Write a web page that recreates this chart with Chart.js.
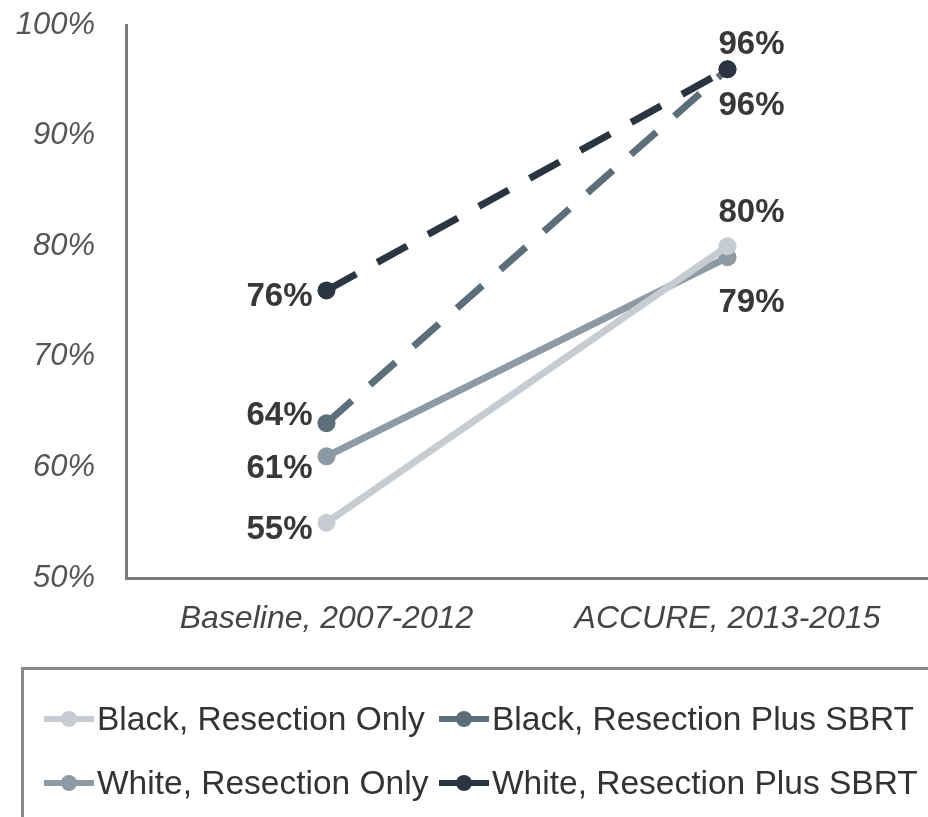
<!DOCTYPE html>
<html>
<head>
<meta charset="utf-8">
<script src="https://cdn.jsdelivr.net/npm/chart.js@4/dist/chart.umd.min.js"></script>
<style>
  html, body { margin: 0; padding: 0; background: #fff; overflow: hidden; }
  #wrap { position: relative; width: 928px; height: 817px; overflow: hidden; }
  #legend {
    position: absolute; left: 21px; top: 667px; width: 1000px; height: 200px;
    border-top: 3px solid #8a8a8a; border-left: 3px solid #8a8a8a;
    padding: 17px 0 0 20px; box-sizing: border-box;
    display: grid; grid-template-columns: 395px auto; grid-auto-rows: 64px;
    font-family: 'Liberation Sans', Arial, sans-serif; font-size: 33.5px; color: #333;
  }
  #legend .item { display: flex; align-items: center; white-space: nowrap; }
  #legend canvas { margin-right: 3px; }
</style>
</head>
<body>
<div id="wrap">
  <canvas id="chart" width="928" height="817"></canvas>
  <div id="legend"></div>
</div>
<script>
// periods on the x axis
const periods = ['Baseline, 2007-2012', 'ACCURE, 2013-2015'];

// percentages per group
const blackResectionOnly = [55, 80];
const blackResectionSbrt = [64, 96];
const whiteResectionOnly = [61, 79];
const whiteResectionSbrt = [76, 96];

const yTicks = [50, 60, 70, 80, 90, 100];

const FONT = "'Liberation Sans', Arial, sans-serif";

const series = [
    { label: 'Black, Resection Only', data: blackResectionOnly, color: '#c6ccd1', dash: [], order: 2 },
    { label: 'Black, Resection Plus SBRT', data: blackResectionSbrt, color: '#5c6e79', dash: [34, 24], order: 1 },
    { label: 'White, Resection Only', data: whiteResectionOnly, color: '#8d9aa4', dash: [], order: 3 },
    { label: 'White, Resection Plus SBRT', data: whiteResectionSbrt, color: '#2b3541', dash: [34, 24], order: 0 }
];

// value labels beside each point: [dx, dy, align] per point
const labelPlacement = [
    [[-14, 7, 'right'], [24, -33, 'center']],
    [[-14, -7, 'right'], [24, 37, 'center']],
    [[-14, 13, 'right'], [24, 46, 'center']],
    [[-14, 6, 'right'], [24, -24, 'center']]
];

const valueLabels = {
    id: 'valueLabels',
    afterDatasetsDraw(chart) {
        const ctx = chart.ctx;
        ctx.save();
        ctx.font = 'bold 33px ' + FONT;
        ctx.fillStyle = '#383838';
        ctx.textBaseline = 'middle';
        chart.data.datasets.forEach((ds, i) => {
            const meta = chart.getDatasetMeta(i);
            meta.data.forEach((pt, j) => {
                const [dx, dy, align] = labelPlacement[i][j];
                ctx.textAlign = align;
                ctx.fillText(ds.data[j] + '%', pt.x + dx, pt.y + dy);
            });
        });
        ctx.restore();
    }
};

// small line+dot swatch for the legend
function makeSwatch(color) {
    const c = document.createElement('canvas');
    c.width = 50;
    c.height = 20;
    const g = c.getContext('2d');
    g.strokeStyle = color;
    g.lineWidth = 6;
    g.beginPath();
    g.moveTo(0, 10);
    g.lineTo(50, 10);
    g.stroke();
    g.fillStyle = color;
    g.beginPath();
    g.arc(25, 10, 8, 0, Math.PI * 2);
    g.fill();
    return c;
}

const htmlLegend = {
    id: 'htmlLegend',
    afterUpdate(chart) {
        const box = document.getElementById('legend');
        box.innerHTML = '';
        chart.data.datasets.forEach(ds => {
            const item = document.createElement('div');
            item.className = 'item';
            item.appendChild(makeSwatch(ds.borderColor));
            const span = document.createElement('span');
            span.textContent = ds.label;
            item.appendChild(span);
            box.appendChild(item);
        });
    }
};

new Chart(document.getElementById('chart'), {
    type: 'line',
    data: {
        labels: periods,
        datasets: series.map(s => ({
            label: s.label,
            data: s.data,
            borderColor: s.color,
            backgroundColor: s.color,
            pointBackgroundColor: s.color,
            pointBorderColor: s.color,
            borderWidth: 7,
            borderDash: s.dash,
            pointRadius: 9,
            pointBorderWidth: 0,
            tension: 0,
            clip: false,
            order: s.order
        }))
    },
    options: {
        responsive: false,
        animation: false,
        events: [],
        layout: { autoPadding: false, padding: { top: 25, left: 0, right: 0, bottom: 145 } },
        scales: {
            x: {
                offset: true,
                grid: { display: false, drawTicks: false },
                border: { display: true, color: '#7a7a7a', width: 3 },
                ticks: {
                    padding: 22,
                    color: '#454545',
                    font: { family: FONT, size: 32, style: 'italic' }
                },
                afterFit(scale) {
                    scale.height = 94;
                    scale.paddingLeft = 0;
                    scale.paddingRight = 0;
                }
            },
            y: {
                min: 50,
                max: 100,
                grid: { display: false, drawTicks: false },
                border: { display: true, color: '#7a7a7a', width: 3 },
                afterBuildTicks(scale) {
                    scale.ticks = yTicks.map(v => ({ value: v }));
                },
                ticks: {
                    padding: 31,
                    color: '#555',
                    font: { family: FONT, size: 31, style: 'italic' },
                    callback: v => v + '%'
                },
                afterFit(scale) {
                    scale.width = 126;
                    scale.paddingTop = 0;
                    scale.paddingBottom = 0;
                }
            }
        },
        plugins: {
            tooltip: { enabled: false },
            legend: { display: false }
        }
    },
    plugins: [valueLabels, htmlLegend]
});
</script>
</body>
</html>
